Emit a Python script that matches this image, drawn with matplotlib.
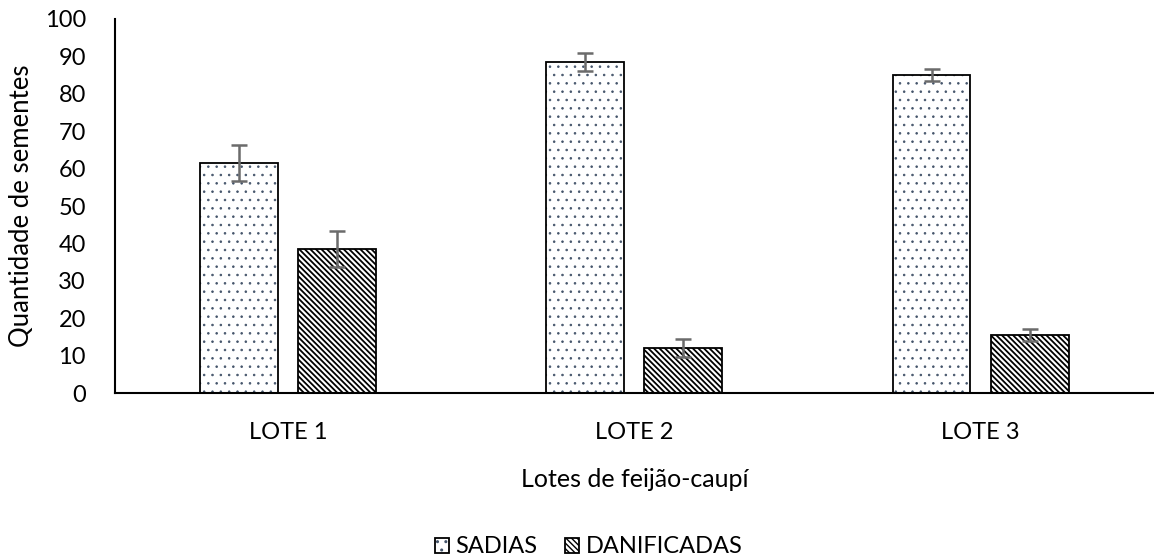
import matplotlib
matplotlib.use("Agg")
import matplotlib.pyplot as plt
import numpy as np

categories = ["LOTE 1", "LOTE 2", "LOTE 3"]
sadias = [61.5, 88.5, 85.0]
sadias_err = [4.8, 2.5, 1.5]
danificadas = [38.5, 12.0, 15.5]
danificadas_err = [4.8, 2.5, 1.5]
series_names = ["SADIAS", "DANIFICADAS"]
yticks = [0, 10, 20, 30, 40, 50, 60, 70, 80, 90, 100]

plt.rcParams['font.family'] = ['Lato', 'DejaVu Sans']

fig = plt.figure(figsize=(11.54, 5.57), dpi=100)
ax = fig.add_axes([0.0997, 0.2944, 0.9, 0.6715])

x = np.arange(len(categories))
w = 0.225
off = 0.1416
err_kw = dict(ecolor="#6b6b6b", elinewidth=1.8, capsize=6, capthick=1.8)

b1 = ax.bar(x - off, sadias, w, yerr=sadias_err, color="white", edgecolor="black",
            linewidth=1.3, hatch="..", error_kw=err_kw, label=series_names[0])
b2 = ax.bar(x + off, danificadas, w, yerr=danificadas_err, color="white", edgecolor="black",
            linewidth=1.3, hatch="\\" * 6, error_kw=err_kw, label=series_names[1])
for p in b1.patches:
    p._hatch_color = matplotlib.colors.to_rgba('#44546A')
    if hasattr(p, "set_hatch_linewidth"):
        p.set_hatch_linewidth(0.6)
for p in b2.patches:
    p._hatch_color = matplotlib.colors.to_rgba('black')
    if hasattr(p, "set_hatch_linewidth"):
        p.set_hatch_linewidth(1.3)

ax.set_xlim(-0.5, 2.5)
ax.set_ylim(0, 100)
ax.set_yticks(yticks)
ax.set_xticks(x)
ax.set_xticklabels(categories)
ax.tick_params(axis='both', length=0, labelsize=17, colors='black')
ax.tick_params(axis='x', pad=21)
ax.tick_params(axis='y', pad=21)
for s in ["top", "right"]:
    ax.spines[s].set_visible(False)
ax.spines["left"].set_linewidth(1.5)
ax.spines["bottom"].set_linewidth(1.5)
ax.set_ylabel("Quantidade de sementes", fontsize=18.5, labelpad=8)
ax.set_xlabel("Lotes de feijão-caupí", fontsize=18, labelpad=18)

leg = fig.legend(handles=[b1, b2], loc="center", bbox_to_anchor=(0.51, 0.018), ncol=2,
                 frameon=False, fontsize=17, handlelength=0.6, handleheight=0.6,
                 handletextpad=0.25, columnspacing=1.2)

fig.savefig("out.png", dpi=100)
